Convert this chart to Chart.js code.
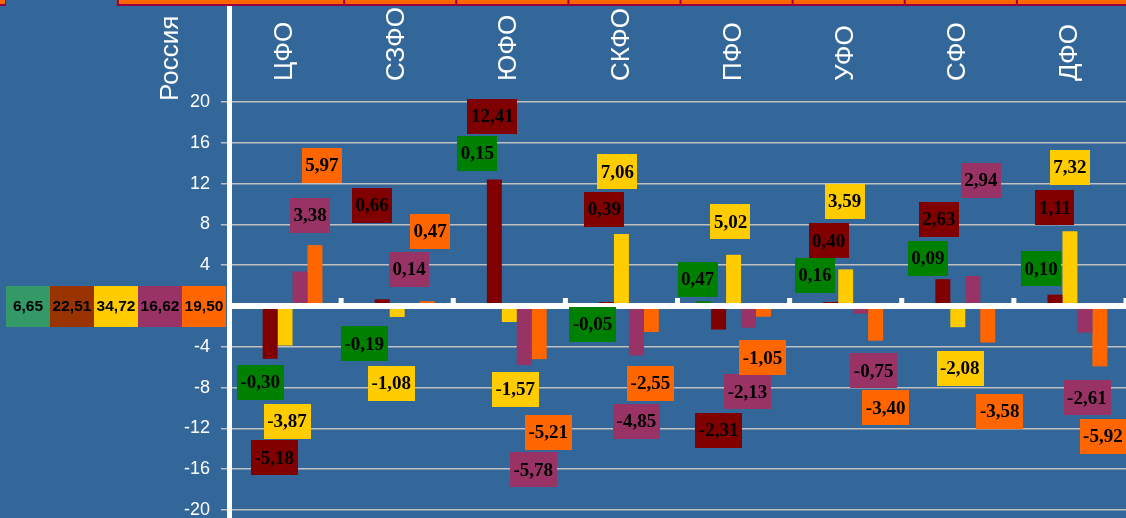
<!DOCTYPE html>
<html>
<head>
<meta charset="utf-8">
<script src="https://cdn.jsdelivr.net/npm/chart.js@4.4.1/dist/chart.umd.min.js"></script>
<style>
  html, body { margin: 0; padding: 0; background: #336699; overflow: hidden; }
  #wrap { position: relative; width: 1126px; height: 518px; }
</style>
</head>
<body>
<div id="wrap"><canvas id="chart"></canvas></div>
<script>
// Districts along the x axis
const districts = ['ЦФО', 'СЗФО', 'ЮФО', 'СКФО', 'ПФО', 'УФО', 'СФО', 'ДФО'];

// Five series, one value per district
const seriesGreen   = [-0.30, -0.19,  0.15, -0.05,  0.47,  0.16,  0.09,  0.10];
const seriesDarkRed = [-5.18,  0.66, 12.41,  0.39, -2.31,  0.40,  2.63,  1.11];
const seriesYellow  = [-3.87, -1.08, -1.57,  7.06,  5.02,  3.59, -2.08,  7.32];
const seriesPurple  = [ 3.38,  0.14, -5.78, -4.85, -2.13, -0.75,  2.94, -2.61];
const seriesOrange  = [ 5.97,  0.47, -5.21, -2.55, -1.05, -3.40, -3.58, -5.92];

// Russia totals shown in the strip left of the axis
const russiaLabel = 'Россия';
const russiaValues = [6.65, 22.51, 34.72, 16.62, 19.50];

// y axis ticks
const yTickValues = [-20, -16, -12, -8, -4, 0, 4, 8, 12, 16, 20];

// colours
const barColors = ['#008000', '#800000', '#ffcc00', '#993366', '#ff6600'];
const russiaColors = ['#339966', '#993300', '#ffcc00', '#993366', '#ff6600'];

// hand placed data labels: [dx, dy] in px from the bar tip (one row per series)
const labelShift = [
  [[5, 73], [-3, 36], [-2, -151], [1, 18], [-6, -22], [-1, -29], [0, -47], [1, -36]],
  [[4, 99], [-10, -94], [-2, -63], [-2, -93], [0, 101], [-2, -61], [-4, -60], [0, -87]],
  [[2, 76], [-6, 66], [6, 67], [-4, -62], [-3, -33], [-1, -68], [2, 41], [0, -64]],
  [[10, -56], [-3, -35], [9, 105], [0, 66], [-1, 64], [13, 57], [8, -96], [2, 65]],
  [[7, -80], [3, -70], [9, 73], [-1, 51], [-1, 41], [10, 67], [12, 69], [3, 70]]
];

const fmt = v => v.toFixed(2).replace('.', ',');
const sansFont = '"Liberation Sans", Arial, sans-serif';

// draws a rotated (bottom-to-top) label whose start sits at (px, py)
const upText = (ctx, text, px, py) => {
  ctx.save();
  ctx.translate(px, py);
  ctx.rotate(-Math.PI / 2);
  ctx.textAlign = 'left';
  ctx.textBaseline = 'middle';
  ctx.fillText(text, 0, 0);
  ctx.restore();
};

const decor = {
  id: 'decor',
  afterDatasetsDraw(chart) {
    const { ctx, chartArea: a, scales: { x, y } } = chart;
    const zero = y.getPixelForValue(0);
    ctx.save();

    // zero line and the small category ticks on it
    ctx.fillStyle = '#ffffff';
    ctx.fillRect(a.left, zero - 3, chart.width - a.left, 6);
    for (let i = 0; i < districts.length; i++) {
      const bx = x.getPixelForValue(i + 0.5);
      ctx.fillRect(bx - 2.5, zero - 8, 5, 6);
    }
    // vertical axis line, full height
    ctx.fillRect(a.left - 2, 0, 5, chart.height);

    // top strip (bottom edge of a table above the chart)
    const sx = x.getPixelForValue(-1.5);
    ctx.fillStyle = '#ff6600';
    ctx.fillRect(sx, 0, chart.width - sx, 4);
    ctx.fillRect(0, 0, 5, 4);
    ctx.fillStyle = '#99003a';
    ctx.fillRect(sx, 4, chart.width - sx, 2);
    ctx.fillRect(sx, 0, 2, 6);
    ctx.fillRect(0, 4, 6, 2);
    ctx.fillRect(5, 0, 1, 6);
    for (let k = 0; k < districts.length - 1; k++) {
      ctx.fillRect(x.getPixelForValue(k + 0.5) + 2, 0, 2, 6);
    }

    // category names across the top, plus Russia to the left of the axis
    ctx.fillStyle = '#ffffff';
    ctx.font = '26px ' + sansFont;
    districts.forEach((d, i) => upText(ctx, d, x.getPixelForValue(i), 81));
    upText(ctx, russiaLabel, x.getPixelForValue(-1) - 2, 101);

    // Russia totals strip
    const cellW = 44;
    const x0 = a.left - 3 - cellW * russiaValues.length;
    ctx.font = 'bold 15.5px ' + sansFont;
    ctx.textAlign = 'center';
    ctx.textBaseline = 'middle';
    russiaValues.forEach((v, i) => {
      ctx.fillStyle = russiaColors[i];
      ctx.fillRect(x0 + i * cellW, zero - 20, cellW, 41);
      ctx.fillStyle = '#000000';
      ctx.fillText(fmt(v), x0 + i * cellW + cellW / 2, zero + 1);
    });

    // data labels
    ctx.font = 'bold 19px "Liberation Serif", "Times New Roman", serif';
    chart.data.datasets.forEach((ds, si) => {
      chart.getDatasetMeta(si).data.forEach((bar, i) => {
        const text = fmt(ds.data[i]);
        const [dx, dy] = labelShift[si][i];
        const cx = bar.x + dx;
        const cy = bar.y + dy;
        const w = ctx.measureText(text).width + 7;
        const h = 35;
        ctx.fillStyle = barColors[si];
        ctx.fillRect(Math.round(cx - w / 2), Math.round(cy - h / 2), Math.round(w), h);
        ctx.fillStyle = '#000000';
        ctx.fillText(text, cx, cy + 1);
      });
    });
    ctx.restore();
  }
};

const seriesList = [seriesGreen, seriesDarkRed, seriesYellow, seriesPurple, seriesOrange];

new Chart(document.getElementById('chart'), {
  type: 'bar',
  data: {
    labels: districts,
    datasets: seriesList.map((d, i) => ({
      data: d,
      backgroundColor: barColors[i],
      borderWidth: 0,
      categoryPercentage: 0.667,
      barPercentage: 1
    }))
  },
  options: {
    responsive: true,
    maintainAspectRatio: false,
    animation: false,
    layout: { padding: { top: 0, left: 0, right: -4, bottom: 8 } },
    plugins: { legend: { display: false }, tooltip: { enabled: false } },
    scales: {
      x: {
        position: 'top',
        grid: { display: false },
        border: { display: false },
        ticks: { display: false },
        afterFit: s => { s.height = 102; }
      },
      y: {
        min: -20,
        max: 20,
        afterBuildTicks: s => { s.ticks = yTickValues.map(v => ({ value: v })); },
        border: { display: false },
        grid: {
          color: c => c.tick && c.tick.value === 0 ? 'rgba(0,0,0,0)' : '#c0c0c0',
          tickColor: c => c.tick && c.tick.value === 0 ? 'rgba(0,0,0,0)' : '#c0c0c0',
          lineWidth: 1.5,
          tickLength: 8
        },
        ticks: {
          color: '#ffffff',
          font: { family: sansFont, size: 18 },
          padding: 11
        },
        afterFit: s => {
          s.width = 229;
          s.paddingTop = 0;
          s.paddingBottom = 0;
        }
      }
    }
  },
  plugins: [decor]
});
</script>
</body>
</html>
